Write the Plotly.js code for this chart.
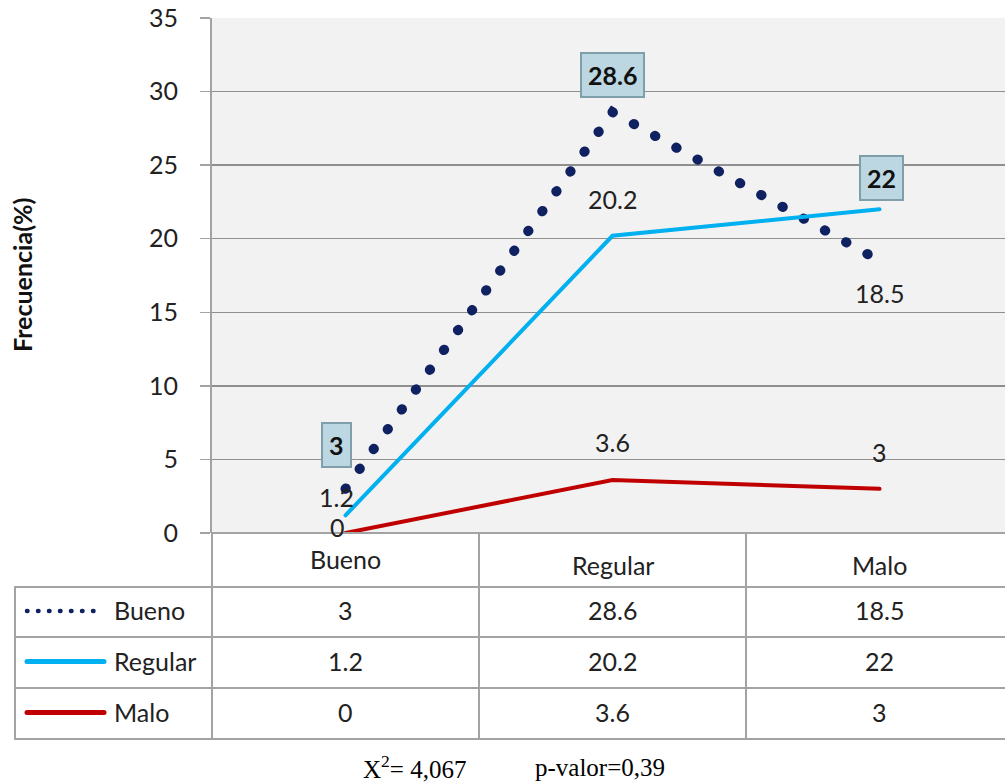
<!DOCTYPE html>
<html><head><meta charset="utf-8">
<script src="https://cdn.plot.ly/plotly-3.0.1.min.js"></script>
<style>
body{margin:0;background:#fff}
.js-line{stroke-linecap:round}
.shapelayer path{stroke-linecap:round}
</style></head>
<body><div id="chart" style="width:1005px;height:784px"></div>
<script>
// ---- data ----
const categories = ['Bueno', 'Regular', 'Malo'];
const seriesNames = ['Bueno', 'Regular', 'Malo'];
const buenoValues = [3, 28.6, 18.5];
const regularValues = [1.2, 20.2, 22];
const maloValues = [0, 3.6, 3];
const yTickValues = [0, 5, 10, 15, 20, 25, 30, 35];
const yAxisTitle = 'Frecuencia(%)';
const statLabel = 'X<sup>2</sup>= 4,067';
const pLabel = 'p-valor=0,39';

// ---- styling ----
const W = 1005, H = 784;
const L = 212, T = 18, B = 533;          // plot area px
const colW = 267;                         // category column width px
const plotW = W - L, plotH = B - T;
const xRange = [-0.5, -0.5 + plotW / colW];
const FONT = 'Lato, "Open Sans", sans-serif';
const SERIF = '"Liberation Serif", "Times New Roman", serif';
const TXT = '#222222';
const GRID = '#8f8f8f';
const TBL = '#a3a3a3';
const colors = ['#0f2161', '#00b0f0', '#c00000'];
const allSeries = [buenoValues, regularValues, maloValues];

// label offsets [xshift, yshift] and boxed flags per series/point
const labelOffsets = [
  [[-9, 44], [0, 37], [0, -32]],
  [[-9, 18], [0, 37], [2, 31]],
  [[-8, 6], [0, 38], [0, 37]]
];
const boxed = [[true, true, false], [false, false, true], [false, false, false]];

const xp = px => (px - L) / plotW;
const yp = py => (B - py) / plotH;
const xc = i => (i - xRange[0]) / (xRange[1] - xRange[0]); // category centre -> paper

const traces = allSeries.map((vals, s) => ({
  type: 'scatter', mode: 'lines', x: categories, y: vals, name: seriesNames[s],
  line: s === 0 ? {color: colors[0], width: 10, dash: '0.5px,23.8px'}
                : {color: colors[s], width: 4},
  hoverinfo: 'skip'
}));

const annotations = [];
const shapes = [];
const note = (px, py, text, font, extra) => annotations.push(Object.assign({
  x: xp(px), y: yp(py), xref: 'paper', yref: 'paper', showarrow: false,
  xanchor: 'center', yanchor: 'middle', text: text, font: font
}, extra || {}));

// data labels
allSeries.forEach((vals, s) => {
  vals.forEach((v, i) => {
    const a = {
      x: categories[i], y: v, xref: 'x', yref: 'y', showarrow: false,
      xanchor: 'center', yanchor: 'middle',
      text: String(v), xshift: labelOffsets[s][i][0], yshift: labelOffsets[s][i][1],
      font: {family: FONT, size: 25, color: TXT}
    };
    if (boxed[s][i]) {
      a.text = '<b>' + v + '</b>';
      a.font = {family: FONT, size: 25, color: '#111'};
      a.bgcolor = '#bcd7e1';
      a.bordercolor = '#7e9ea9';
      a.borderwidth = 2;
      a.borderpad = 6;
    }
    annotations.push(a);
  });
});

// y-axis title
note(22, 275, '<b>' + yAxisTitle + '</b>', {family: FONT, size: 25, color: '#111'}, {textangle: -90});

// table geometry (px)
const rowTop = [533, 587, 637, 688, 739];
const line = (x0, y0, x1, y1) => shapes.push({
  type: 'line', xref: 'paper', yref: 'paper',
  x0: xp(x0), y0: yp(y0), x1: xp(x1), y1: yp(y1),
  line: {color: TBL, width: 2}, layer: 'above'
});
line(212, 533, W + 5, 533);
line(15, 587, W + 5, 587);
line(15, 637, W + 5, 637);
line(15, 688, W + 5, 688);
line(15, 739, W + 5, 739);
line(15, 587, 15, 739);
line(212, 533, 212, 739);
line(L + colW, 533, L + colW, 739);
line(L + 2 * colW, 533, L + 2 * colW, 739);

// category header
const headerY = [559, 565, 565];
categories.forEach((c, i) => annotations.push({
  x: xc(i), y: yp(headerY[i]), xref: 'paper', yref: 'paper', showarrow: false,
  xanchor: 'center', yanchor: 'middle',
  text: c, font: {family: FONT, size: 25, color: TXT}
}));

// table rows
allSeries.forEach((vals, s) => {
  const cy = (rowTop[s + 1] + rowTop[s + 2]) / 2 - 2;
  vals.forEach((v, i) => annotations.push({
    x: xc(i), y: yp(cy), xref: 'paper', yref: 'paper', showarrow: false,
    xanchor: 'center', yanchor: 'middle',
    text: String(v), font: {family: FONT, size: 25, color: TXT}
  }));
  note(112, cy, seriesNames[s], {family: FONT, size: 25, color: TXT}, {xanchor: 'left'});
  shapes.push({
    type: 'line', xref: 'paper', yref: 'paper',
    x0: xp(27), x1: xp(s === 0 ? 101 : 104), y0: yp(cy + 1), y1: yp(cy + 1),
    line: s === 0 ? {color: colors[0], width: 4.5, dash: '0.5px,10.5px'}
                  : {color: colors[s], width: 5},
    layer: 'above'
  });
});

// footer
note(361, 767, statLabel, {family: SERIF, size: 25, color: '#000'}, {xanchor: 'left'});
note(533, 767, pLabel, {family: SERIF, size: 25, color: '#000'}, {xanchor: 'left'});

const layout = {
  width: W, height: H,
  margin: {l: L, r: 0, t: T, b: H - B, pad: 0},
  paper_bgcolor: '#ffffff', plot_bgcolor: '#f2f2f2',
  showlegend: false,
  xaxis: {type: 'category', range: xRange, showticklabels: false, ticks: '',
          showgrid: false, zeroline: false, showline: false, fixedrange: true},
  yaxis: {range: [0, 35], tickvals: yTickValues, ticktext: yTickValues.map(String),
          showgrid: true, gridcolor: GRID, gridwidth: 1.3, zeroline: false,
          showline: true, linecolor: TBL, linewidth: 2,
          ticks: 'outside', ticklen: 10, tickcolor: TBL, tickwidth: 1.5,
          ticklabelstandoff: 17,
          tickfont: {family: FONT, size: 25, color: TXT}, fixedrange: true},
  annotations: annotations,
  shapes: shapes
};

Plotly.newPlot('chart', traces, layout, {staticPlot: true, displayModeBar: false});
</script>
</body></html>
